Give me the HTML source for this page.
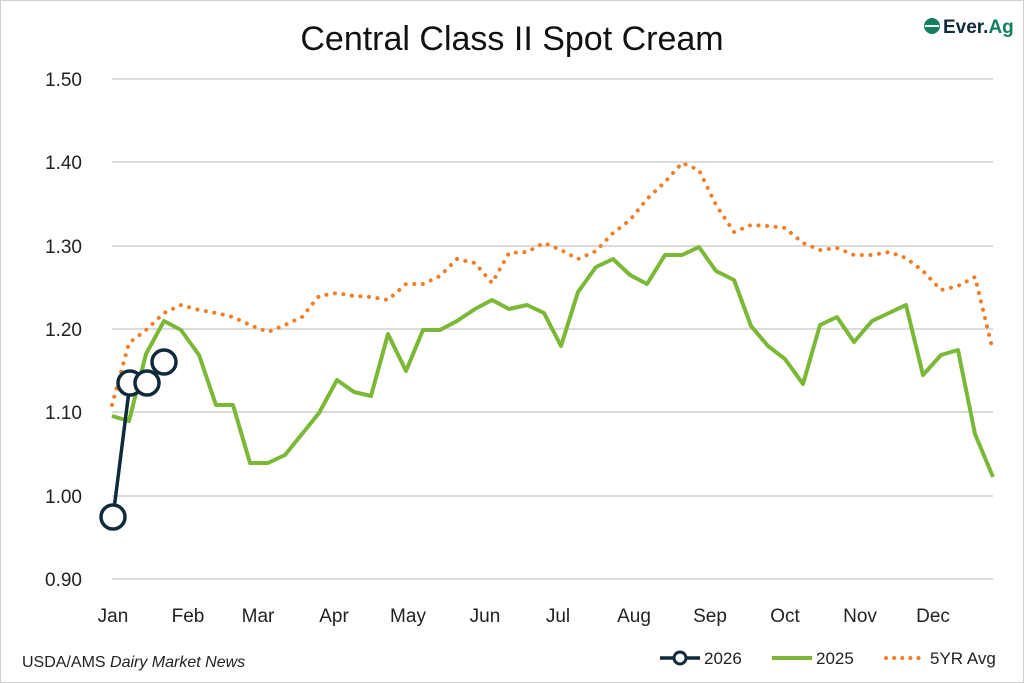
<!DOCTYPE html><html><head><style>body{margin:0;background:#fff}svg{display:block}text{font-family:"Liberation Sans",sans-serif}</style></head><body>
<svg width="1024" height="683" xmlns="http://www.w3.org/2000/svg">
<rect x="0.5" y="0.5" width="1023" height="682" fill="#fff" stroke="#d0d0d0"/>
<text x="512" y="50" font-size="34" text-anchor="middle" fill="#111" style="font-weight:500">Central Class II Spot Cream</text>
<g stroke="#c8c8c8" stroke-width="1.3">
<line x1="112" x2="993" y1="79" y2="79"/><line x1="112" x2="993" y1="162" y2="162"/><line x1="112" x2="993" y1="246" y2="246"/><line x1="112" x2="993" y1="329" y2="329"/><line x1="112" x2="993" y1="412" y2="412"/><line x1="112" x2="993" y1="496" y2="496"/><line x1="112" x2="993" y1="579" y2="579"/></g>
<g font-size="19" fill="#222" text-anchor="end">
<text x="82" y="86">1.50</text><text x="82" y="169">1.40</text><text x="82" y="253">1.30</text><text x="82" y="336">1.20</text><text x="82" y="419">1.10</text><text x="82" y="503">1.00</text><text x="82" y="586">0.90</text></g>
<g font-size="19" fill="#222" text-anchor="middle">
<text x="113" y="622">Jan</text><text x="188" y="622">Feb</text><text x="258" y="622">Mar</text><text x="334" y="622">Apr</text><text x="408" y="622">May</text><text x="485" y="622">Jun</text><text x="558" y="622">Jul</text><text x="634" y="622">Aug</text><text x="710" y="622">Sep</text><text x="785" y="622">Oct</text><text x="860" y="622">Nov</text><text x="933" y="622">Dec</text></g>
<polyline fill="none" stroke="#f07f2a" stroke-width="4" stroke-linecap="round" stroke-dasharray="0.1 8.5" points="112,405 129,343 146,330 164,313 181,305 199,310 216,313 233,317 250,325 268,332 285,325 302,317 319,296 337,293 354,296 371,297 388,300 406,284 423,284 440,276 457,259 475,263 492,283 509,253 527,252 544,243 561,250 578,259 596,251 613,233 630,220 647,199 665,182 682,163 699,170 716,205 734,232 751,225 768,226 785,228 803,243 820,250 837,248 854,255 872,255 889,252 906,258 923,271 941,290 958,286 975,277 993,351"/>
<polyline fill="none" stroke="#7ab836" stroke-width="4" stroke-linejoin="round" points="112,416 129,421 146,354 164,321 181,330 199,355 216,405 233,405 250,463 268,463 285,455 302,434 319,413 337,380 354,392 371,396 388,334 406,371 423,330 440,330 457,321 475,309 492,300 509,309 527,305 544,313 561,346 578,292 596,267 613,259 630,275 647,284 665,255 682,255 699,247 716,271 734,280 751,326 768,346 785,359 803,384 820,325 837,317 854,342 872,321 889,313 906,305 923,375 941,355 958,350 975,434 993,477"/>
<polyline fill="none" stroke="#0f2a3a" stroke-width="3.5" points="113,517 130,383 147,383 164,362"/>
<g fill="#fff" stroke="#0f2a3a" stroke-width="3.5"><circle cx="113" cy="517" r="12"/><circle cx="130" cy="383" r="12"/><circle cx="147" cy="383" r="12"/><circle cx="164" cy="362" r="12"/></g>
<text x="22" y="667" font-size="16" fill="#222">USDA/AMS <tspan font-style="italic">Dairy Market News</tspan></text>
<line x1="660" x2="700" y1="658" y2="658" stroke="#0f2a3a" stroke-width="3.5"/><circle cx="680" cy="658" r="6" fill="#fff" stroke="#0f2a3a" stroke-width="3"/>
<text x="704" y="664" font-size="17" fill="#222">2026</text>
<line x1="772" x2="812" y1="658" y2="658" stroke="#7ab836" stroke-width="4"/>
<text x="816" y="664" font-size="17" fill="#222">2025</text>
<line x1="886" x2="922" y1="658" y2="658" stroke="#f07f2a" stroke-width="4" stroke-linecap="round" stroke-dasharray="0.1 8"/>
<text x="930" y="664" font-size="17" fill="#222">5YR Avg</text>
<circle cx="932" cy="26" r="8" fill="#12805c"/><path d="M925 26h14" stroke="#fff" stroke-width="2"/>
<text x="943" y="33" font-size="19" font-weight="bold" fill="#0f2a3a">Ever.<tspan fill="#12805c">Ag</tspan></text>
</svg></body></html>
